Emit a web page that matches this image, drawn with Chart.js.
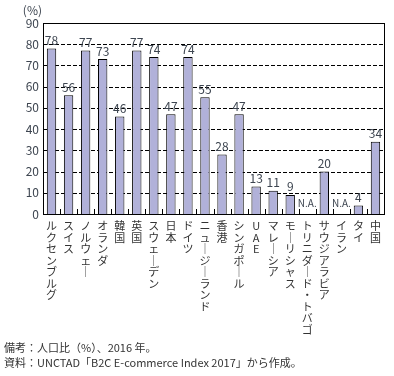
<!DOCTYPE html>
<html lang="ja">
<head>
<meta charset="utf-8">
<script src="https://cdn.jsdelivr.net/npm/chart.js@4"></script>
<style>
    html, body { margin: 0; padding: 0; background: #fff; }
    .wrap { position: relative; width: 394px; height: 376px; }
    canvas { position: absolute; left: 0; top: 0; }
    .notes {
        position: absolute;
        left: 4px;
        top: 340px;
        font-family: "Noto Sans CJK JP", sans-serif;
        font-size: 11px;
        line-height: 15px;
        color: #333;
    }
</style>
</head>
<body>
<div class="wrap">
    <canvas id="chart" width="394" height="376"></canvas>
    <div class="notes" id="notes"></div>
</div>
<script>
const categories = [
    "ルクセンブルグ", "スイス", "ノルウェー", "オランダ", "韓国", "英国", "スウェーデン",
    "日本", "ドイツ", "ニュージーランド", "香港", "シンガポール", "UAE", "マレーシア",
    "モーリシャス", "トリニダード・トバゴ", "サウジアラビア", "イラン", "タイ", "中国"
];
const rates = [78, 56, 77, 73, 46, 77, 74, 47, 74, 55, 28, 47, 13, 11, 9, null, 20, null, 4, 34];
const missingLabel = "N.A.";
const yMin = 0;
const yMax = 90;
const yStep = 10;
const unitLabel = "(%)";
const notes = [
    "備考：人口比（%）、2016 年。",
    "資料：UNCTAD「B2C E-commerce Index 2017」から作成。"
];

const fontFamily = "'Noto Sans CJK JP', 'Noto Sans', sans-serif";
const textColor = "#3d4550";

document.getElementById("notes").innerHTML = notes.map((line) => `<div>${line}</div>`).join("");

// stack characters so the category names read top to bottom
function verticalLabel(text) {
    return [...text].map((ch) => (ch === "ー" ? "｜" : ch));
}

// dashed horizontal grid under the bars
const gridPlugin = {
    id: "dashedGrid",
    beforeDatasetsDraw(chart) {
        const { ctx, chartArea } = chart;
        const yScale = chart.scales.y;
        ctx.save();
        ctx.strokeStyle = "#000";
        ctx.lineWidth = 1;
        ctx.setLineDash([4, 2]);
        ctx.beginPath();
        for (let v = yMin + yStep; v < yMax; v += yStep) {
            const y = Math.round(yScale.getPixelForValue(v)) + 0.5;
            ctx.moveTo(chartArea.left, y);
            ctx.lineTo(chartArea.right, y);
        }
        ctx.stroke();
        ctx.restore();
    }
};

const framePlugin = {
    id: "frame",
    afterDatasetsDraw(chart) {
        const { ctx, chartArea } = chart;
        const step = (chartArea.right - chartArea.left) / categories.length;
        ctx.save();
        ctx.strokeStyle = "#000";
        ctx.lineWidth = 1;
        ctx.strokeRect(Math.round(chartArea.left) + 0.5, Math.round(chartArea.top) + 0.5,
            Math.round(chartArea.right - chartArea.left), Math.round(chartArea.bottom - chartArea.top));
        ctx.beginPath();
        for (let i = 1; i < categories.length; i++) {
            const x = Math.round(chartArea.left + step * i) + 0.5;
            ctx.moveTo(x, chartArea.bottom);
            ctx.lineTo(x, chartArea.bottom - 5);
        }
        ctx.stroke();

        ctx.fillStyle = textColor;
        ctx.font = `12px ${fontFamily}`;
        ctx.textAlign = "right";
        ctx.textBaseline = "middle";
        ctx.fillText(unitLabel, chartArea.left - 1, 10);
        ctx.restore();
    }
};

const valueLabelPlugin = {
    id: "valueLabels",
    afterDatasetsDraw(chart) {
        const { ctx } = chart;
        const meta = chart.getDatasetMeta(0);
        const yScale = chart.scales.y;
        ctx.save();
        ctx.textAlign = "center";
        ctx.fillStyle = textColor;
        meta.data.forEach((bar, i) => {
            const value = rates[i];
            if (value === null) {
                ctx.font = `10px ${fontFamily}`;
                ctx.textBaseline = "middle";
                ctx.fillText(missingLabel, bar.x, yScale.getPixelForValue(5));
            } else {
                ctx.font = `12px ${fontFamily}`;
                ctx.textBaseline = "bottom";
                ctx.fillText(String(value), bar.x, bar.y - 2);
            }
        });
        ctx.restore();
    }
};

new Chart(document.getElementById("chart"), {
    type: "bar",
    data: {
        labels: categories,
        datasets: [{
            data: rates,
            backgroundColor: "#b1b1d9",
            borderColor: "#000",
            borderWidth: 1,
            borderSkipped: "bottom",
            barPercentage: 0.55,
            categoryPercentage: 1
        }]
    },
    options: {
        responsive: false,
        animation: false,
        layout: { padding: { top: 23, right: 10, left: 0, bottom: 0 } },
        plugins: {
            legend: { display: false },
            tooltip: { enabled: false }
        },
        scales: {
            x: {
                afterFit: (scale) => { scale.height = 162; },
                grid: { display: false, drawTicks: false },
                border: { display: true, color: "#000", width: 1 },
                ticks: {
                    autoSkip: false,
                    maxRotation: 0,
                    minRotation: 0,
                    padding: 6,
                    color: "#333",
                    font: { family: fontFamily, size: 11, lineHeight: 1.05 },
                    callback: (value, index) => verticalLabel(categories[index])
                }
            },
            y: {
                min: yMin,
                max: yMax,
                afterFit: (scale) => { scale.width = 43; },
                grid: { display: false, drawTicks: false },
                border: { display: true, color: "#000", width: 1 },
                ticks: {
                    stepSize: yStep,
                    padding: 4,
                    color: textColor,
                    font: { family: fontFamily, size: 12 }
                }
            }
        }
    },
    plugins: [gridPlugin, framePlugin, valueLabelPlugin]
});
</script>
</body>
</html>
